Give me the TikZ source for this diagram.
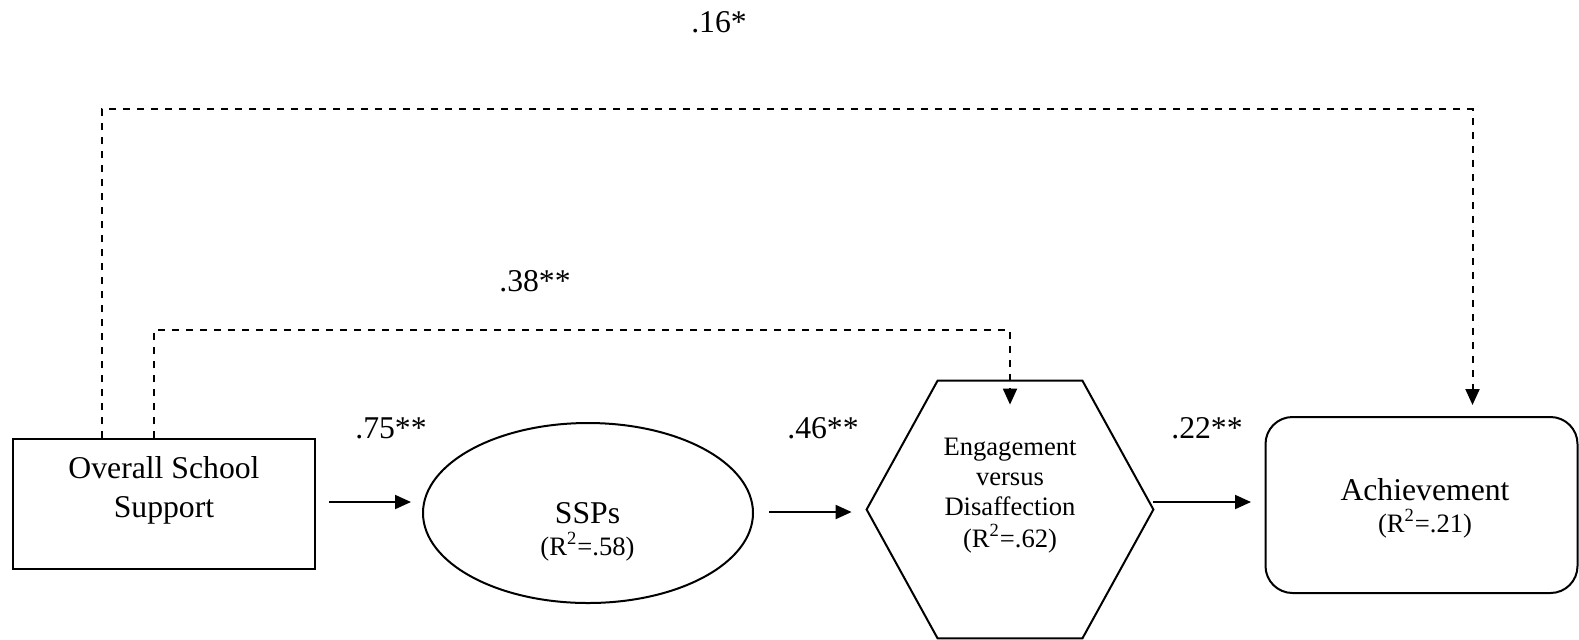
\documentclass[tikz,border=0pt]{standalone}
\usepackage{fontspec}
\setmainfont{Liberation Serif}
\usetikzlibrary{arrows.meta,shapes.geometric,calc}
\begin{document}
\begin{tikzpicture}[x=0.5pt,y=-0.5pt,
  big/.style={font=\fontsize{15.85}{19}\selectfont, inner sep=0pt, anchor=base},
  small/.style={font=\fontsize{13.3}{16}\selectfont, inner sep=0pt, anchor=base},
  shapeline/.style={draw=black, line width=1pt},
  arr/.style={line width=1pt, -{Triangle[length=8pt,width=7pt]}},
  darr/.style={arr, dash pattern=on 3.5pt off 3.5pt},
]
\useasboundingbox (0,0) rectangle (1579,639);

% shapes
\node[shapeline, rectangle, minimum width=151pt, minimum height=65pt, inner sep=0pt] (oss) at (164,504) {};
\node[shapeline, ellipse, minimum width=165pt, minimum height=90pt, inner sep=0pt] (ssp) at (588,513) {};
\node[inner sep=0pt, minimum width=143pt, minimum height=128.5pt] (hex) at (1010,509.5) {};
\draw[shapeline, line join=miter] (hex.west) -- ($(hex.north west)+(71,0)$) -- ($(hex.north east)+(-71,0)$) -- (hex.east) -- ($(hex.south east)+(-71,0)$) -- ($(hex.south west)+(71,0)$) -- cycle;
\node[shapeline, rectangle, rounded corners=13.5pt, minimum width=156pt, minimum height=88pt, inner sep=0pt] (ach) at (1421.5,505) {};

% texts
\node[big] (osst1) at (164,478) {Overall School};
\node[big] (osst2) at (164,517) {Support};
\node[big] (sspt1) at (587.5,523) {SSPs};
\node[small] (sspt2) at (587.5,555) {(R\textsuperscript{2}=.58)};
\node[small] (hext1) at (1010,455) {Engagement};
\node[small] (hext2) at (1010,485) {versus};
\node[small] (hext3) at (1010,515) {Disaffection};
\node[small] (hext4) at (1010,547) {(R\textsuperscript{2}=.62)};
\node[big] (acht1) at (1425,500) {Achievement};
\node[small] (acht2) at (1425,532) {(R\textsuperscript{2}=.21)};

% coefficients
\node[big] (c16) at (719,32) {.16*};
\node[big] (c38) at (535,291) {.38**};
\node[big] (c75) at (391,438) {.75**};
\node[big] (c46) at (823,438) {.46**};
\node[big] (c22) at (1207,438) {.22**};

% connectors
\draw[arr] ($(oss.east)+(13,-2)$) -- ($(ssp.west)+(-11,-11)$);
\draw[arr] ($(ssp.east)+(15,-1)$) -- ($(hex.west)+(-15,2.5)$);
\draw[arr] ($(hex.east)+(0,-7.5)$) -- ($(ach.west)+(-13.5,-3)$);
\draw[darr] ($(oss.north west)+(90,0)$) -- ++(0,-329) -| ($(ach.north)+(51,-11)$);
\draw[darr] ($(oss.north west)+(142,0)$) -- ++(0,-108) -| ($(hex.north)+(0,24)$);
\end{tikzpicture}
\end{document}
